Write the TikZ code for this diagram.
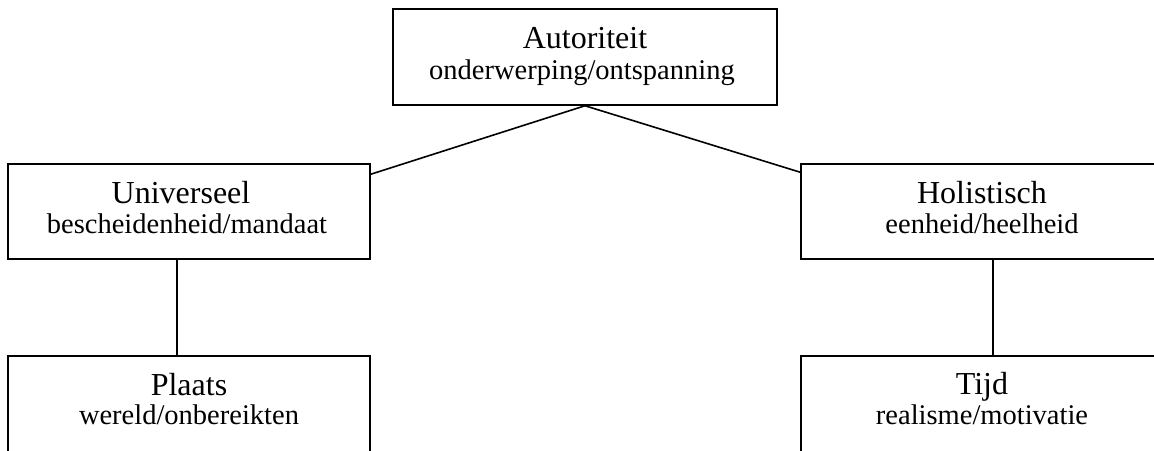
\documentclass[tikz,border=0pt]{standalone}
\usepackage{fontspec}
\setmainfont{Liberation Serif}
\usetikzlibrary{calc}
\tikzset{
  box/.style={draw=black, line width=1.5pt, minimum width=362pt, minimum height=96pt, inner sep=0pt, fill=none},
  ttl/.style={anchor=base, inner sep=0pt, font=\fontsize{32}{36}\selectfont},
  sub/.style={anchor=base, inner sep=0pt, font=\fontsize{28.5}{30}\selectfont},
  conn/.style={draw=black, line width=1.6pt}
}
\begin{document}
\begin{tikzpicture}[x=1pt, y=-1pt]
\useasboundingbox[fill=white] (0,0) rectangle (1154,450);
\clip (0,0) rectangle (1154,450);
% boxes
\node[box, minimum width=384pt] (top) at (585,57) {};
\node[box, minimum height=95pt] (u) at (189,211.5) {};
\node[box, minimum height=95pt] (h) at (982,211.5) {};
\node[box] (p) at (189,404) {};
\node[box] (t) at (982,404) {};
% texts
\node[ttl] (topT) at ($(top.north)+(0,40)$) {Autoriteit};
\node[sub] (topS) at ($(top.north)+(-3,71)$) {onderwerping/ontspanning};
\node[ttl] (uT) at ($(u.north)+(-8,40)$) {Universeel};
\node[sub] (uS) at ($(u.north)+(-2,70)$) {bescheidenheid/mandaat};
\node[ttl] (hT) at ($(h.north)+(0,40)$) {Holistisch};
\node[sub] (hS) at ($(h.north)+(0,70)$) {eenheid/heelheid};
\node[ttl] (pT) at ($(p.north)+(0,40)$) {Plaats};
\node[sub] (pS) at ($(p.north)+(0,69)$) {wereld/onbereikten};
\node[ttl] (tT) at ($(t.north)+(0,39)$) {Tijd};
\node[sub] (tS) at ($(t.north)+(0,69)$) {realisme/motivatie};
% connectors
\coordinate (uc) at ($(u.north east)+(0,11)$);
\coordinate (hc) at ($(h.north west)+(0,9)$);
\draw[conn] (top.south) -- (uc);
\draw[conn] (top.south) -- (hc);
\draw[conn] ($(u.south west)+(169.5,0)$) -- ($(p.north west)+(169.5,0)$);
\draw[conn] ($(h.south west)+(192.5,0)$) -- ($(t.north west)+(192.5,0)$);
\end{tikzpicture}
\end{document}
